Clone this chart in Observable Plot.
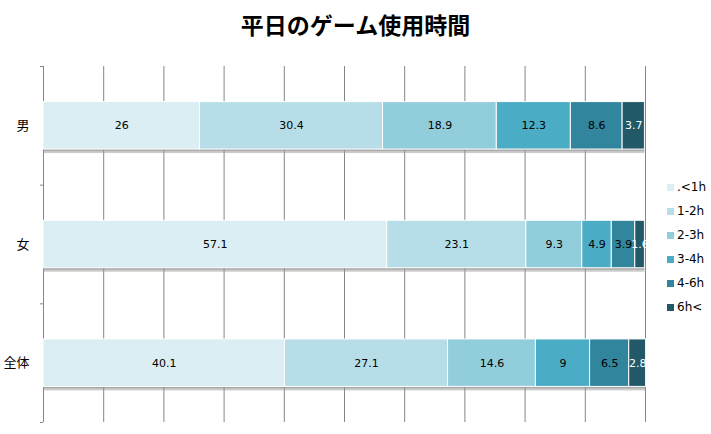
<!DOCTYPE html>
<html><head><meta charset="utf-8">
<script src="https://cdn.jsdelivr.net/npm/d3@7"></script>
<script src="https://cdn.jsdelivr.net/npm/@observablehq/plot@0.6"></script>
<style>
body{margin:0;background:#fff;font-family:"Noto Sans CJK JP",sans-serif;}
#wrap{position:relative;width:711px;height:434px;}
#title{height:50px;line-height:48px;text-align:center;font-size:23px;font-weight:bold;color:#000;}
#legend{position:absolute;left:667px;top:175px;font-family:"DejaVu Sans",sans-serif;font-size:12px;color:#000;}
#legend div{height:24px;line-height:16px;display:flex;align-items:center;}
#legend span.sw{display:inline-block;width:7px;height:7px;margin-right:3px;}
</style></head>
<body><div id="wrap"><div id="title">平日のゲーム使用時間</div><div id="chart"></div><div id="legend"></div></div>
<script>
const categories = ["男", "女", "全体"];
const series = [".<1h", "1-2h", "2-3h", "3-4h", "4-6h", "6h<"];
const colors = ["#DAEEF3", "#B7DEE8", "#92CDDC", "#4BACC6", "#31859C", "#215968"];
const values = {
  "男":   [26, 30.4, 18.9, 12.3, 8.6, 3.7],
  "女":   [57.1, 23.1, 9.3, 4.9, 3.9, 1.6],
  "全体": [40.1, 27.1, 14.6, 9, 6.5, 2.8]
};
const xTicks = d3.range(0, 101, 10);

const rows = [];
categories.forEach((c, i) => {
  let acc = 0;
  values[c].forEach((v, j) => {
    rows.push({cat: c, idx: i, s: series[j], j, v, x1: acc, x2: acc + v});
    acc += v;
  });
});
const totals = categories.map((c, i) => ({idx: i, total: d3.sum(values[c])}));

const chart = Plot.plot({
  width: 711, height: 384,
  marginLeft: 43, marginRight: 66, marginTop: 16, marginBottom: 12,
  x: {domain: [0, 100], axis: null},
  y: {domain: [0, 3], reverse: true, axis: null},
  style: {fontFamily: "DejaVu Sans, sans-serif"},
  marks: [
    Plot.ruleX(xTicks, {x: d => d, y1: 0, y2: 3, stroke: "#868686", strokeWidth: 1}),
    Plot.axisY({ticks: [0, 1, 2, 3], tickSize: 3, tickFormat: () => "", stroke: "#868686"}),
    Plot.axisY({ticks: [0.5, 1.5, 2.5], tickSize: 0, tickPadding: 14, tickFormat: d => categories[Math.floor(d)], fontSize: 13, fill: "#000", fontFamily: "Noto Sans CJK JP"}),
    Plot.rectX(totals, {x1: 0, x2: "total", y1: d => d.idx + 0.3, y2: d => d.idx + 0.7, dy: 4, fill: "#999", fillOpacity: 0.5}),
    Plot.rectX(totals, {x1: 0, x2: "total", y1: d => d.idx + 0.3, y2: d => d.idx + 0.7, dy: 2, fill: "#888", fillOpacity: 0.5}),
    Plot.rectX(rows, {x1: "x1", x2: "x2", y1: d => d.idx + 0.3, y2: d => d.idx + 0.7, fill: d => colors[d.j], stroke: "#fff", strokeWidth: 1}),
    Plot.text(rows, {x: d => (d.x1 + d.x2) / 2, y: d => d.idx + 0.5, text: d => String(d.v), fill: d => d.j === 5 ? "#fff" : "#000", fontSize: 11})
  ]
});
document.getElementById("chart").appendChild(chart);

const leg = document.getElementById("legend");
series.forEach((s, j) => {
  const d = document.createElement("div");
  d.innerHTML = `<span class="sw" style="background:${colors[j]}"></span>${s}`;
  leg.appendChild(d);
});
</script></body></html>
